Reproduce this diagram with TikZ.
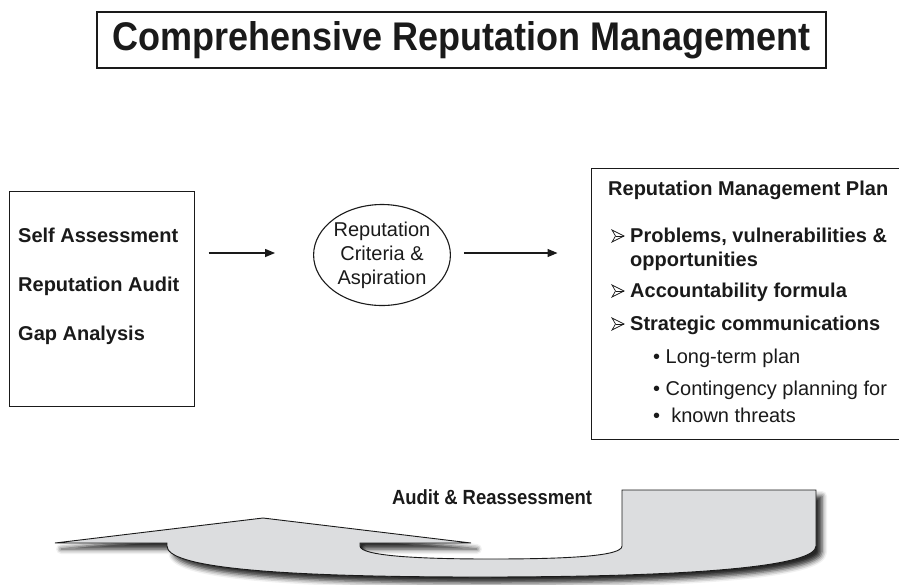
\documentclass[tikz,border=0pt]{standalone}
\usepackage{fontspec}
\setmainfont{Liberation Sans}
\newfontfamily\titlefont[FakeStretch=0.9]{Liberation Sans}
\usetikzlibrary{arrows.meta,shadows.blur,shapes.geometric}
\definecolor{ink}{HTML}{1A1A1A}
\definecolor{shapegray}{HTML}{DCDDDF}
\begin{document}
\begin{tikzpicture}[x=1pt,y=-1pt,
  boxline/.style={draw=ink, line width=1.1pt},
  lbl/.style={inner sep=0pt, anchor=base west, text=ink, font=\fontsize{20}{24}\selectfont},
  blbl/.style={lbl, font=\bfseries\fontsize{20}{24}\selectfont},
  arr/.style={draw=ink, line width=1.3pt, -{Triangle[length=10pt,width=8pt]}},
  arrowmark/.pic={
    \draw[ink, line width=0.7pt, line join=miter] (0,0) -- (12,-6) -- (0,-12) -- (3.5,-6) -- cycle;
    \draw[ink, line width=0.7pt] (3.5,-6) -- (12,-6);
  }
]
\useasboundingbox (0,0) rectangle (899,584);

% title
\node[boxline, line width=1.5pt, minimum width=729pt, minimum height=56pt, inner sep=0pt, text=ink,
      font=\titlefont\bfseries\fontsize{40}{44}\selectfont] (title) at (461.5,40)
      {Comprehensive Reputation Management};

% left box
\node[boxline, anchor=north west, minimum width=185pt, minimum height=215pt, inner sep=0pt] (leftbox) at (8.5,190.5) {};
\node[blbl] (sa) at (18,242) {Self Assessment};
\node[blbl] (ra) at (18,291) {Reputation Audit};
\node[blbl] (ga) at (18,340) {Gap Analysis};

% ellipse
\node[boxline, ellipse, minimum width=136pt, minimum height=101pt, inner sep=0pt, align=center, text=ink,
      font=\fontsize{20}{24}\selectfont] (ell) at (382,255) {Reputation\\Criteria \&\\Aspiration};

% right box
\node[boxline, anchor=north west, minimum width=330pt, minimum height=271pt, inner sep=0pt] (plan) at (590.5,168) {};
\node[blbl] (pt) at (608,195) {Reputation Management Plan};
\pic at (612,242) {arrowmark};
\node[blbl] (p1) at (630,242) {Problems, vulnerabilities \&};
\node[blbl] (p1b) at (630,266) {opportunities};
\pic at (612,297) {arrowmark};
\node[blbl] (p2) at (630,297) {Accountability formula};
\pic at (612,330) {arrowmark};
\node[blbl] (p3) at (630,330) {Strategic communications};
\node[lbl] (s1) at (653,363) {\textbullet\ Long-term plan};
\node[lbl] (s2) at (653,395) {\textbullet\ Contingency planning for};
\node[lbl] (s3) at (653,422) {\textbullet\ \ known threats};

% connectors
\draw[arr, shorten <=14pt, shorten >=38pt] (leftbox.east |- 0,253) -- (ell.west |- 0,253);
\draw[arr, shorten <=13pt, shorten >=33pt] (ell.east |- 0,253) -- (plan.west |- 0,253);

% bottom curved arrow
\path[draw=ink, line width=0.9pt, fill=shapegray,
      blur shadow={shadow xshift=6pt, shadow yshift=-6pt, shadow blur radius=5pt, shadow opacity=85}]
  (55,543) -- (263,518) -- (471,543) -- (360,543) -- (360,546)
  .. controls (360,556) and (420,559) .. (490,559)
  .. controls (570,559) and (622,556) .. (622,546)
  -- (622,490) -- (816,490) -- (816,546)
  .. controls (816,566) and (700,577) .. (480,577)
  .. controls (260,577) and (167,566) .. (167,546)
  -- (167,543) -- cycle;
\node[inner sep=0pt, text=ink, font=\titlefont\bfseries\fontsize{20.5}{22}\selectfont] (audit) at (492,497) {Audit \& Reassessment};
\end{tikzpicture}
\end{document}
